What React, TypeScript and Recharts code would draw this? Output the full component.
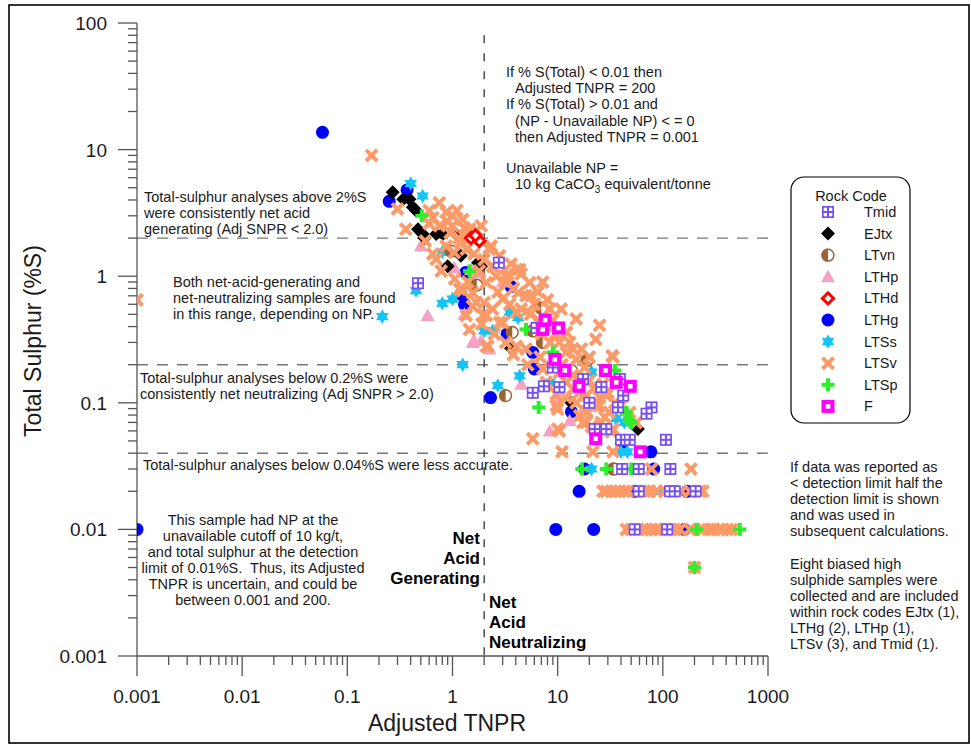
import { ScatterChart, Scatter, XAxis, YAxis, ReferenceLine } from "recharts";

const FONT = '"Liberation Sans", Arial, Helvetica, sans-serif';
const AXIS = "#555555";

// axis ticks
const xMajor = [0.001, 0.01, 0.1, 1, 10, 100, 1000];
const yMajor = [0.001, 0.01, 0.1, 1, 10, 100];
const minorSteps = [2, 3, 4, 5, 6, 7, 8, 9];
const withMinor = (majors: number[]) => [
  ...majors,
  ...majors.slice(0, -1).flatMap((d) => minorSteps.map((m) => +(d * m).toPrecision(3))),
];
const xTicks = withMinor(xMajor);
const yTicks = withMinor(yMajor);

// rock code samples: [Adjusted TNPR, Total Sulphur %S]
const tmidPts: [number, number][] = [
  [2.76, 1.28], [0.47, 0.88], [6.3, 0.39], [9, 0.19], [17.4, 0.154], [7.4, 0.135], [5.8, 0.12],
  [10.4, 0.133], [26, 0.133], [39, 0.154], [42, 0.114], [37.5, 0.092], [20, 0.1], [78, 0.092],
  [70, 0.082], [22.5, 0.062], [29, 0.062], [40, 0.051], [48.5, 0.051], [107, 0.051], [41, 0.03],
  [59, 0.03], [118, 0.03], [59, 0.02], [117, 0.02], [130, 0.02], [205, 0.02], [54, 0.01], [110, 0.01],
];
const ejtxPts: [number, number][] = [
  [0.27, 4.6], [0.34, 4.05], [0.39, 4.05], [0.42, 3.5], [0.45, 3.3], [0.47, 2.35], [0.52, 2.15],
  [0.54, 2.0], [0.7, 2.15], [0.81, 2.15], [1.08, 2.15], [0.9, 1.2], [1.2, 1.45], [1.75, 1.28],
  [1.87, 1.2], [3.6, 0.27], [13.5, 0.1], [58, 0.062],
];
const ltvnPts: [number, number][] = [
  [0.97, 1.58], [1.7, 0.85], [7, 0.56], [3.7, 0.36], [5.8, 0.37], [7.2, 0.3], [19, 0.215],
  [13.5, 0.18], [3.2, 0.114], [34, 0.03],
];
const lthpPts: [number, number][] = [
  [0.5, 1.73], [0.58, 0.49], [1.04, 1.17], [1.3, 0.5], [1.56, 0.3], [1.8, 1.07], [1.87, 0.31],
  [3, 0.9], [1.5, 1.13], [1.6, 0.31], [2.25, 0.266], [4.5, 0.14], [8.4, 0.06], [13, 0.072],
  [17, 0.085], [9.7, 0.11],
];
const lthdPts: [number, number][] = [[1.5, 2.0], [1.8, 1.9], [1.65, 2.1]];
const lthgPts: [number, number][] = [
  [0.058, 13.7], [0.001, 0.01], [0.25, 3.9], [0.37, 4.8], [1.33, 1.07], [3.6, 0.83], [1.3, 0.6],
  [3.3, 0.35], [5.8, 0.25], [6, 0.185], [2.3, 0.11], [13.5, 0.085], [42, 0.049], [77, 0.041],
  [18, 0.03], [82, 0.03], [16, 0.02], [54, 0.02], [170, 0.02], [9.6, 0.01], [22, 0.01], [160, 0.01],
  [1.2, 0.72],
];
const ltssPts: [number, number][] = [
  [0.4, 5.4], [0.52, 4.3], [0.45, 0.77], [0.8, 0.61], [1.0, 0.66], [0.8, 1.55], [2.4, 0.37],
  [2.0, 0.37], [3.5, 0.52], [1.25, 0.2], [0.215, 0.48], [4.35, 0.163], [2.7, 0.137], [4.2, 0.47],
  [21, 0.175], [36, 0.075], [43, 0.07], [8.4, 0.145], [21, 0.03], [40, 0.041], [46, 0.041], [94, 0.02],
];
const ltsvPts: [number, number][] = [
  [0.001, 0.65], [0.17, 9.0], [0.3, 3.4], [0.36, 2.35], [0.75, 3.8], [0.87, 3.2], [1.25, 2.8],
  [1.45, 2.35], [1.0, 2.5], [0.7, 1.36], [0.87, 1.73], [1.35, 1.63], [2.25, 1.63], [2.4, 1.2],
  [3.25, 1.0], [4.35, 1.13], [5.4, 0.89], [4.2, 0.74], [3.0, 0.66], [2.0, 0.62], [1.56, 0.74],
  [1.17, 0.79], [1.35, 0.49], [2.1, 0.49], [2.8, 0.43], [4.05, 0.52], [2.1, 0.28], [1.0, 3.0],
  [7.2, 0.9], [2.33, 1.73], [1.87, 2.5], [1.04, 1.54], [1.25, 0.77], [2.1, 0.89], [2.6, 1.0],
  [3.37, 1.04], [4.05, 1.13], [4.5, 1.04], [5.6, 0.7], [8.4, 0.55], [10.8, 0.55], [15, 0.46],
  [12.1, 0.36], [10.4, 0.3], [14, 0.266], [16.8, 0.266], [20, 0.23], [33.6, 0.23], [4.05, 0.28],
  [5.0, 0.266], [1.45, 0.38], [2.17, 0.28], [2.4, 0.55], [1.68, 0.62], [1.95, 0.49], [3.0, 0.43],
  [10.4, 0.174], [12.1, 0.145], [7.2, 0.185], [7.8, 0.145], [9.7, 0.117], [15, 0.1], [18.7, 0.114],
  [23, 0.095], [29, 0.114], [31, 0.084], [10, 0.089], [17.4, 0.07], [10.4, 0.06], [5.8, 0.052],
  [33.6, 0.062], [48.5, 0.084], [56, 0.07], [14, 0.129], [23, 0.318], [25, 0.41], [33, 0.235],
  [9.7, 0.095], [16.2, 0.079], [18.7, 0.07], [10, 0.062], [25, 0.095], [28, 0.077], [32.5, 0.059],
  [3.5, 0.6], [4.5, 0.55], [5.5, 0.5], [6, 0.6], [6.5, 0.45], [3.8, 0.8], [5, 0.7], [6.5, 0.75],
  [8, 0.65], [9, 0.45], [7, 0.35], [8.5, 0.3], [9.5, 0.35], [12, 0.25], [11, 0.2], [13, 0.3],
  [15, 0.22], [18, 0.19], [20, 0.15], [22, 0.13], [25, 0.11], [27, 0.14], [30, 0.12], [14, 0.165],
  [16, 0.12], [12, 0.11], [19, 0.085], [21, 0.065], [26, 0.07], [35, 0.1], [40, 0.095], [2.7, 0.75],
  [3.2, 0.9], [1.8, 1.1], [2.0, 1.35], [1.6, 1.5], [1.2, 1.85], [1.5, 2.0], [0.95, 2.2], [0.6, 2.6],
  [0.55, 1.9], [0.65, 1.5], [0.78, 1.1], [1.05, 0.95], [1.4, 0.9], [1.55, 0.58], [1.9, 0.42],
  [2.5, 0.35], [3.2, 0.3], [3.8, 0.24], [5.2, 0.2], [6.8, 0.23],
  [0.6, 3.3], [0.65, 2.9], [0.9, 2.7], [1.1, 3.3], [1.3, 2.4], [0.75, 2.5], [1.15, 2.0], [1.7, 2.3],
  [2.8, 1.45], [3.6, 1.25],
  [11, 0.041], [21.6, 0.041], [33.6, 0.041], [78, 0.03], [185, 0.03],
  [27, 0.02], [29, 0.02], [32.5, 0.02], [36, 0.02], [39, 0.02], [43, 0.02], [47, 0.02], [67, 0.02],
  [75, 0.02], [87, 0.02], [104, 0.02], [150, 0.02], [181, 0.02], [225, 0.02], [240, 0.02],
  [45, 0.01], [50, 0.01], [58, 0.01], [64, 0.01], [70, 0.01], [78, 0.01], [86, 0.01], [94, 0.01],
  [105, 0.01], [117, 0.01], [130, 0.01], [145, 0.01], [181, 0.01], [240, 0.01], [270, 0.01],
  [300, 0.01], [340, 0.01], [370, 0.01], [410, 0.01], [450, 0.01], [200, 0.005],
];
const ltspPts: [number, number][] = [
  [0.51, 3.0], [6.6, 0.092], [35, 0.18], [50, 0.07], [45, 0.084], [5, 0.38], [1.45, 1.1], [17, 0.03],
  [29, 0.03], [50, 0.03], [48, 0.072], [41, 0.089], [540, 0.01], [210, 0.01], [200, 0.005], [9, 0.25],
];
const fPts: [number, number][] = [
  [7.6, 0.45], [10.2, 0.39], [7.2, 0.38], [9.4, 0.22], [11.7, 0.18], [16, 0.135], [28.5, 0.18],
  [36, 0.145], [49, 0.135], [23, 0.052], [61, 0.041],
];

type Kind = "Tmid" | "EJtx" | "LTvn" | "LTHp" | "LTHd" | "LTHg" | "LTSs" | "LTSv" | "LTSp" | "F";

const COLORS: Record<Kind, string> = {
  Tmid: "#7650f0",
  EJtx: "#000000",
  LTvn: "#9c6434",
  LTHp: "#f7a1c4",
  LTHd: "#ff0000",
  LTHg: "#0000ff",
  LTSs: "#14c4f4",
  LTSv: "#fc9a68",
  LTSp: "#2bef2b",
  F: "#ff00ff",
};

const legendOrder: Kind[] = ["Tmid", "EJtx", "LTvn", "LTHp", "LTHd", "LTHg", "LTSs", "LTSv", "LTSp", "F"];

// drawing order in the plot
const series: { kind: Kind; pts: [number, number][] }[] = [
  { kind: "LTHg", pts: lthgPts },
  { kind: "LTHp", pts: lthpPts },
  { kind: "LTSs", pts: ltssPts },
  { kind: "LTvn", pts: ltvnPts },
  { kind: "EJtx", pts: ejtxPts },
  { kind: "LTSv", pts: ltsvPts },
  { kind: "LTSp", pts: ltspPts },
  { kind: "Tmid", pts: tmidPts },
  { kind: "LTHd", pts: lthdPts },
  { kind: "F", pts: fPts },
];

function Marker({ kind, cx, cy }: { kind: Kind; cx: number; cy: number }) {
  const c = COLORS[kind];
  switch (kind) {
    case "Tmid":
      return (
        <g>
          <rect x={cx - 6} y={cy - 6} width={12} height={12} fill={c} />
          <rect x={cx - 4.3} y={cy - 4.3} width={3.3} height={3.3} fill="#fff" />
          <rect x={cx + 1} y={cy - 4.3} width={3.3} height={3.3} fill="#fff" />
          <rect x={cx - 4.3} y={cy + 1} width={3.3} height={3.3} fill="#fff" />
          <rect x={cx + 1} y={cy + 1} width={3.3} height={3.3} fill="#fff" />
        </g>
      );
    case "EJtx":
      return <polygon points={`${cx},${cy - 7} ${cx + 7},${cy} ${cx},${cy + 7} ${cx - 7},${cy}`} fill={c} />;
    case "LTvn":
      return (
        <g>
          <circle cx={cx} cy={cy} r={5.9} fill="#fff" stroke={c} strokeWidth={1.5} />
          <path d={`M ${cx} ${cy - 6.6} A 6.6 6.6 0 0 0 ${cx} ${cy + 6.6} Z`} fill={c} />
        </g>
      );
    case "LTHp":
      return <polygon points={`${cx},${cy - 7} ${cx + 7},${cy + 5.5} ${cx - 7},${cy + 5.5}`} fill={c} />;
    case "LTHd":
      return (
        <polygon
          points={`${cx},${cy - 5.6} ${cx + 5.6},${cy} ${cx},${cy + 5.6} ${cx - 5.6},${cy}`}
          fill="#fff"
          stroke={c}
          strokeWidth={3}
        />
      );
    case "LTHg":
      return <circle cx={cx} cy={cy} r={6.5} fill={c} />;
    case "LTSs": {
      const r = 7.2;
      const h = r * 0.866;
      return (
        <g fill={c}>
          <polygon points={`${cx},${cy - r} ${cx + h},${cy + r / 2} ${cx - h},${cy + r / 2}`} />
          <polygon points={`${cx},${cy + r} ${cx + h},${cy - r / 2} ${cx - h},${cy - r / 2}`} />
        </g>
      );
    }
    case "LTSv":
      return (
        <g stroke={c} strokeWidth={4}>
          <line x1={cx - 5.6} y1={cy - 5.6} x2={cx + 5.6} y2={cy + 5.6} />
          <line x1={cx - 5.6} y1={cy + 5.6} x2={cx + 5.6} y2={cy - 5.6} />
        </g>
      );
    case "LTSp":
      return (
        <g stroke={c} strokeWidth={4}>
          <line x1={cx - 6.5} y1={cy} x2={cx + 6.5} y2={cy} />
          <line x1={cx} y1={cy - 6.5} x2={cx} y2={cy + 6.5} />
        </g>
      );
    case "F":
      return (
        <g>
          <rect x={cx - 6.5} y={cy - 6.5} width={13} height={13} fill={c} />
          <rect x={cx - 2.3} y={cy - 2.3} width={4.6} height={4.6} fill="#fff" />
        </g>
      );
  }
}

const XTick = (props: any) => {
  const { x, y, payload } = props;
  const major = xMajor.includes(payload.value);
  return (
    <g>
      <line x1={x} x2={x} y1={y} y2={y + (major ? 20 : 9)} stroke={AXIS} strokeWidth={1.3} />
      {major && (
        <text x={x} y={y + 47} textAnchor="middle" fontSize={19} fontFamily={FONT} fill="#1a1a1a">
          {String(payload.value)}
        </text>
      )}
    </g>
  );
};

const YTick = (props: any) => {
  const { x, y, payload } = props;
  const major = yMajor.includes(payload.value);
  return (
    <g>
      <line x1={x} x2={x - (major ? 19 : 9)} y1={y} y2={y} stroke={AXIS} strokeWidth={1.3} />
      {major && (
        <text x={x - 30} y={y + 7} textAnchor="end" fontSize={19} fontFamily={FONT} fill="#1a1a1a">
          {String(payload.value)}
        </text>
      )}
    </g>
  );
};

const noteStyle = { fontSize: 14.5, fontFamily: FONT, fill: "#1a1a1a" };
const boldStyle = { fontSize: 17, fontFamily: FONT, fill: "#000", fontWeight: 700 };

function Lines({ x, y0, step, lines, anchor = "start", style = noteStyle }: any) {
  return (
    <text x={x} textAnchor={anchor} style={style} xmlSpace="preserve">
      {lines.map((l: string, i: number) => (
        <tspan key={i} x={x} y={y0 + i * step}>
          {l}
        </tspan>
      ))}
    </text>
  );
}

export default function App() {
  return (
    <div style={{ position: "relative", width: 971, height: 750, background: "#fff" }}>
      <style>{"body{margin:0;background:#fff}"}</style>
      <ScatterChart width={971} height={750} margin={{ top: 23, right: 203, bottom: 0, left: 0 }}>
        <XAxis
          type="number"
          dataKey="x"
          scale="log"
          domain={[0.001, 1000]}
          allowDataOverflow
          ticks={xTicks}
          interval={0}
          height={94}
          tickSize={0}
          tickMargin={0}
          tickLine={false}
          tick={<XTick />}
          axisLine={{ stroke: AXIS, strokeWidth: 1.3 }}
        />
        <YAxis
          type="number"
          dataKey="y"
          scale="log"
          domain={[0.001, 100]}
          allowDataOverflow
          ticks={yTicks}
          interval={0}
          width={137}
          tickSize={0}
          tickMargin={0}
          tickLine={false}
          tick={<YTick />}
          axisLine={{ stroke: AXIS, strokeWidth: 1.3 }}
        />
        <ReferenceLine y={2} stroke="#777" strokeWidth={1.4} strokeDasharray="11 9" />
        <ReferenceLine y={0.2} stroke="#777" strokeWidth={1.4} strokeDasharray="11 9" />
        <ReferenceLine y={0.04} stroke="#777" strokeWidth={1.4} strokeDasharray="11 9" />
        <ReferenceLine
          segment={[
            { x: 2, y: 80 },
            { x: 2, y: 0.001 },
          ]}
          stroke="#222"
          strokeWidth={1.2}
          strokeDasharray="8 10"
        />
        {series.map((s) => (
          <Scatter
            key={s.kind}
            name={s.kind}
            data={s.pts.map(([x, y]) => ({ x, y }))}
            isAnimationActive={false}
            shape={(p: any) => <Marker kind={s.kind} cx={p.cx} cy={p.cy} />}
          />
        ))}
      </ScatterChart>

      <svg width={971} height={750} style={{ position: "absolute", left: 0, top: 0, pointerEvents: "none" }}>
        <rect x={9} y={5} width={960} height={738} fill="none" stroke="#000" strokeWidth={1.6} />

        <text
          transform="translate(41,341) rotate(-90)"
          textAnchor="middle"
          fontSize={23}
          fontFamily={FONT}
          fill="#1a1a1a"
        >
          Total Sulphur (%S)
        </text>
        <text x={447} y={731} textAnchor="middle" fontSize={23} fontFamily={FONT} fill="#1a1a1a">
          Adjusted TNPR
        </text>

        <Lines
          x={144}
          y0={202}
          step={16}
          lines={["Total-sulphur analyses above 2%S", "were consistently net acid", "generating (Adj SNPR < 2.0)"]}
        />
        <Lines
          x={173}
          y0={287}
          step={16}
          lines={["Both net-acid-generating and", "net-neutralizing samples are found", "in this range, depending on NP."]}
        />
        <Lines
          x={140}
          y0={383}
          step={16}
          lines={["Total-sulphur analyses below 0.2%S were", "consistently net neutralizing (Adj SNPR > 2.0)"]}
        />
        <Lines x={143} y0={470} step={16} lines={["Total-sulphur analyses below 0.04%S were less accurate."]} />
        <Lines
          x={253}
          y0={525}
          step={16}
          anchor="middle"
          lines={[
            "This sample had NP at the",
            "unavailable cutoff of 10 kg/t,",
            "and total sulphur at the detection",
            "limit of 0.01%S.  Thus, its Adjusted",
            "TNPR is uncertain, and could be",
            "between 0.001 and 200.",
          ]}
        />
        <Lines x={480} y0={544} step={20} anchor="end" style={boldStyle} lines={["Net", "Acid", "Generating"]} />
        <Lines x={489} y0={608} step={20} style={boldStyle} lines={["Net", "Acid", "Neutralizing"]} />

        <Lines x={506} y0={77} step={16} lines={["If % S(Total) < 0.01 then"]} />
        <Lines x={515} y0={93} step={16} lines={["Adjusted TNPR = 200"]} />
        <Lines x={506} y0={109} step={16} lines={["If % S(Total) > 0.01 and"]} />
        <Lines x={515} y0={126} step={16} lines={["(NP - Unavailable NP) < = 0", "then Adjusted TNPR = 0.001"]} />
        <Lines x={506} y0={173} step={16} lines={["Unavailable NP ="]} />
        <text x={515} y={189} style={noteStyle}>
          10 kg CaCO
          <tspan fontSize={10} dy={4}>
            3
          </tspan>
          <tspan dy={-4}> equivalent/tonne</tspan>
        </text>

        <Lines
          x={790}
          y0={472}
          step={16}
          lines={[
            "If data was reported as",
            "< detection limit half the",
            "detection limit is shown",
            "and was used in",
            "subsequent calculations.",
          ]}
        />
        <Lines
          x={790}
          y0={569}
          step={16}
          lines={[
            "Eight biased high",
            "sulphide samples were",
            "collected and are included",
            "within rock codes EJtx (1),",
            "LTHg (2), LTHp (1),",
            "LTSv (3), and Tmid (1).",
          ]}
        />

        <rect x={791} y={177} width={119} height={246} rx={13} fill="#fff" stroke="#000" strokeWidth={1.2} />
        <text x={851} y={201} textAnchor="middle" style={noteStyle}>
          Rock Code
        </text>
        {legendOrder.map((k, i) => {
          const ly = 212 + i * 21.6;
          return (
            <g key={k}>
              <Marker kind={k} cx={828} cy={ly} />
              <text x={864} y={ly + 5} style={noteStyle}>
                {k}
              </text>
            </g>
          );
        })}
      </svg>
    </div>
  );
}
